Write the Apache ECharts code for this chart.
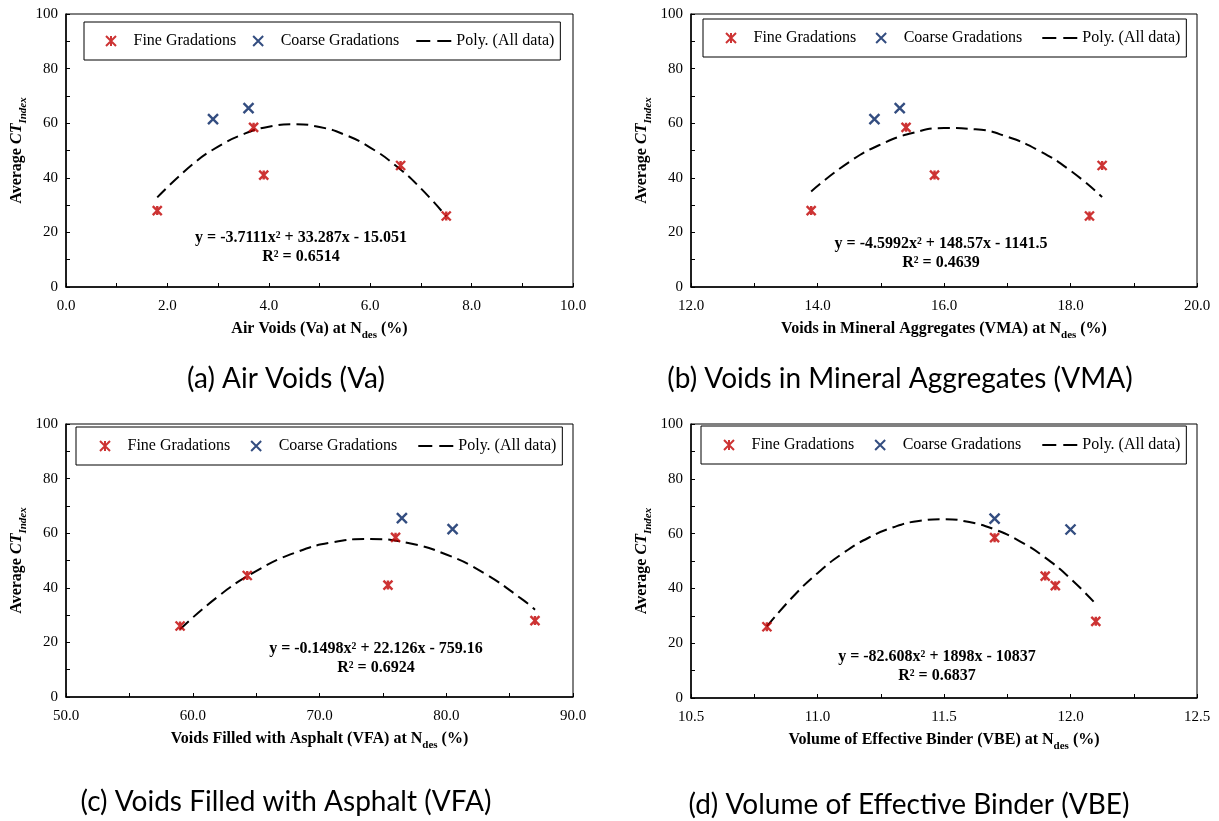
<!DOCTYPE html>
<html>
<head>
<meta charset="utf-8">
<script src="https://cdn.jsdelivr.net/npm/echarts@6/dist/echarts.min.js"></script>
<style>
html,body{margin:0;padding:0;background:#fff;}
#c{width:1219px;height:821px;}
</style>
</head>
<body>
<div id="c"></div>
<script>
// ---------------- DATA ----------------
// (a) Air Voids (Va)
const fineXa = [1.8, 3.7, 3.9, 6.6, 7.5];
const fineYa = [28.0, 58.5, 41.0, 44.5, 26.0];
const coarseXa = [2.9, 3.6];
const coarseYa = [61.5, 65.5];
const trendXa = [1.8, 2.5, 3.0, 3.5, 4.0, 4.5, 5.0, 5.5, 6.0, 6.5, 7.0, 7.5];
const trendYa = [32.84, 44.97, 51.41, 55.99, 58.72, 59.59, 58.61, 55.77, 51.07, 44.52, 36.11, 25.85];
// (b) VMA
const fineXb = [13.9, 15.4, 15.85, 18.5, 18.3];
const fineYb = [28.0, 58.5, 41.0, 44.5, 26.0];
const coarseXb = [14.9, 15.3];
const coarseYb = [61.5, 65.5];
const trendXb = [13.9, 14.5, 15.0, 15.5, 16.0, 16.5, 17.0, 17.5, 18.0, 18.5];
const trendYb = [35.0, 45.78, 52.23, 56.38, 58.22, 57.77, 55.02, 49.97, 42.62, 32.97];
// (c) VFA
const fineXc = [59.0, 64.3, 75.4, 76.0, 87.0];
const fineYc = [26.0, 44.5, 41.0, 58.5, 28.0];
const coarseXc = [76.5, 80.5];
const coarseYc = [65.5, 61.5];
const trendXc = [59, 62, 65, 68, 71, 74, 77, 80, 83, 86, 87];
const trendYc = [24.82, 36.82, 46.12, 52.73, 56.64, 57.86, 56.38, 52.20, 45.32, 35.75, 31.96];
// (d) VBE
const fineXd = [10.8, 11.7, 11.9, 11.94, 12.1];
const fineYd = [26.0, 58.5, 44.5, 41.0, 28.0];
const coarseXd = [11.7, 12.0];
const coarseYd = [65.5, 61.5];
const trendXd = [10.8, 10.9, 11.0, 11.1, 11.2, 11.3, 11.4, 11.5, 11.6, 11.7, 11.8, 11.9, 12.0, 12.1];
const trendYd = [26.14, 36.68, 45.57, 52.80, 58.39, 62.32, 64.60, 65.23, 64.20, 61.53, 57.20, 51.22, 43.58, 34.30];

const xRanges = [[0, 10, 2], [12, 20, 2], [50, 90, 10], [10.5, 12.5, 0.5]];
const yRange = [0, 100, 20];
const xNames = [
  'Air Voids (Va) at N{sub|des} (%)',
  'Voids in Mineral Aggregates (VMA) at N{sub|des} (%)',
  'Voids Filled with Asphalt (VFA) at N{sub|des} (%)',
  'Volume of Effective Binder (VBE) at N{sub|des} (%)'
];
const yName = 'Average {ci|CT}{sub|Index}';
const equations = [
  'y = -3.7111x² + 33.287x - 15.051\nR² = 0.6514',
  'y = -4.5992x² + 148.57x - 1141.5\nR² = 0.4639',
  'y = -0.1498x² + 22.126x - 759.16\nR² = 0.6924',
  'y = -82.608x² + 1898x - 10837\nR² = 0.6837'
];
const captions = [
  '(a) Air Voids (Va)',
  '(b) Voids in Mineral Aggregates (VMA)',
  '(c) Voids Filled with Asphalt (VFA)',
  '(d) Volume of Effective Binder (VBE)'
];
const seriesNames = ['Fine Gradations', 'Coarse Gradations', 'Poly. (All data)'];

// ---------------- LAYOUT / STYLE ----------------
const SERIF = '"Liberation Serif", "Times New Roman", serif';
const RED = '#C00000';
const NAVY = '#002060';
const STAR = 'path://M0,0L10,10M10,0L0,10M5,0L5,10';
const CROSS = 'path://M0,0L10,10M10,0L0,10';

const grids = [
  {left: 66, top: 14, width: 507, height: 273},
  {left: 691, top: 14, width: 506, height: 273},
  {left: 66, top: 424, width: 507, height: 273},
  {left: 691, top: 424, width: 506, height: 274}
];
const legendPos = [
  {left: 84, top: 22, padding: [11, 6, 11, 21], itemGap: 16},
  {left: 703, top: 19, padding: [11, 6, 11, 22], itemGap: 19},
  {left: 76, top: 427, padding: [11, 6, 11, 23], itemGap: 20},
  {left: 701, top: 426, padding: [11, 6, 11, 22], itemGap: 20}
];
const eqPos = [[301, 247], [941, 253], [376, 658], [937, 666]];
const capPos = [[286, 379], [900, 379], [286, 802], [909, 805]];

const fine = [[fineXa, fineYa], [fineXb, fineYb], [fineXc, fineYc], [fineXd, fineYd]];
const coarse = [[coarseXa, coarseYa], [coarseXb, coarseYb], [coarseXc, coarseYc], [coarseXd, coarseYd]];
const trend = [[trendXa, trendYa], [trendXb, trendYb], [trendXc, trendYc], [trendXd, trendYd]];
const zip = (xs, ys) => xs.map((x, i) => [x, ys[i]]);

const tickStyle = {color: '#000', width: 1};
const labelStyle = {fontFamily: SERIF, fontSize: 15, color: '#000'};
const subRich = {fontFamily: SERIF, fontSize: 11, fontWeight: 'bold', color: '#000', verticalAlign: 'bottom', lineHeight: 25};

const xAxes = [], yAxes = [], series = [], legends = [], graphics = [];
for (let i = 0; i < 4; i++) {
  const [mn, mx, iv] = xRanges[i];
  xAxes.push({
    type: 'value', gridIndex: i, min: mn, max: mx, interval: iv,
    name: xNames[i], nameLocation: 'middle', nameGap: 29,
    nameTextStyle: {fontFamily: SERIF, fontSize: 16, fontWeight: 'bold', color: '#000', lineHeight: 19,
      rich: {sub: subRich}},
    axisLine: {onZero: false, lineStyle: {color: '#000', width: 1.5}},
    axisTick: {inside: true, length: 4, lineStyle: tickStyle},
    minorTick: {show: true, splitNumber: 2, length: 4, lineStyle: tickStyle},
    axisLabel: Object.assign({margin: 12, formatter: v => v.toFixed(1)}, labelStyle),
    splitLine: {show: false}
  });
  yAxes.push({
    type: 'value', gridIndex: i, min: yRange[0], max: yRange[1], interval: yRange[2],
    name: yName, nameLocation: 'middle', nameGap: 37, nameRotate: 90,
    nameTextStyle: {fontFamily: SERIF, fontSize: 16, fontWeight: 'bold', color: '#000', lineHeight: 19,
      rich: {ci: {fontFamily: SERIF, fontSize: 16, fontWeight: 'bold', fontStyle: 'italic', color: '#000'},
             sub: Object.assign({}, subRich, {fontStyle: 'italic'})}},
    axisLine: {show: true, lineStyle: {color: '#000', width: 1.5}},
    axisTick: {inside: true, length: 4, lineStyle: tickStyle},
    minorTick: {show: true, splitNumber: 2, length: 4, lineStyle: tickStyle},
    axisLabel: Object.assign({margin: 8}, labelStyle),
    splitLine: {show: false}
  });
  series.push({
    name: seriesNames[0], type: 'scatter', xAxisIndex: i, yAxisIndex: i,
    symbol: STAR, symbolSize: 9, z: 3,
    itemStyle: {color: RED, borderColor: RED, borderWidth: 2.4},
    data: zip(fine[i][0], fine[i][1])
  });
  series.push({
    name: seriesNames[1], type: 'scatter', xAxisIndex: i, yAxisIndex: i,
    symbol: CROSS, symbolSize: 10, z: 3,
    itemStyle: {color: NAVY, borderColor: NAVY, borderWidth: 2.4},
    data: zip(coarse[i][0], coarse[i][1])
  });
  series.push({
    name: seriesNames[2], type: 'line', xAxisIndex: i, yAxisIndex: i,
    smooth: true, symbol: 'none', z: 2,
    lineStyle: {color: '#000', width: 2, type: [12, 6]},
    itemStyle: {color: '#000'},
    data: zip(trend[i][0], trend[i][1])
  });
  legends.push(Object.assign({
    orient: 'horizontal',
    itemWidth: 35, itemHeight: 10, borderColor: '#000', borderWidth: 1,
    selectedMode: false,
    textStyle: {fontFamily: SERIF, fontSize: 16, color: '#000'},
    data: [
      {name: seriesNames[0], icon: STAR},
      {name: seriesNames[1], icon: CROSS},
      {name: seriesNames[2],
       itemStyle: {color: 'transparent', borderColor: 'transparent', borderWidth: 0, opacity: 0},
       lineStyle: {color: '#000', width: 2, type: [14, 7]}}
    ]
  }, legendPos[i]));
  graphics.push({
    type: 'text', x: eqPos[i][0], y: eqPos[i][1], z: 10,
    style: {text: equations[i], fontFamily: SERIF, fontSize: 16, fontWeight: 'bold', fill: '#000',
      align: 'center', verticalAlign: 'middle', lineHeight: 19}
  });
  graphics.push({
    type: 'text', x: capPos[i][0], y: capPos[i][1], z: 10,
    style: {text: captions[i], fontFamily: 'Lato, "Open Sans", sans-serif', fontSize: 28, fill: '#000',
      align: 'center', verticalAlign: 'middle'}
  });
}

const chart = echarts.init(document.getElementById('c'), null, {renderer: 'canvas'});
chart.setOption({
  backgroundColor: '#fff',
  animation: false,
  grid: grids.map(g => Object.assign({show: true, borderColor: '#000', borderWidth: 1, backgroundColor: 'transparent'}, g)),
  xAxis: xAxes,
  yAxis: yAxes,
  legend: legends,
  series: series,
  graphic: graphics
});
</script>
</body>
</html>
